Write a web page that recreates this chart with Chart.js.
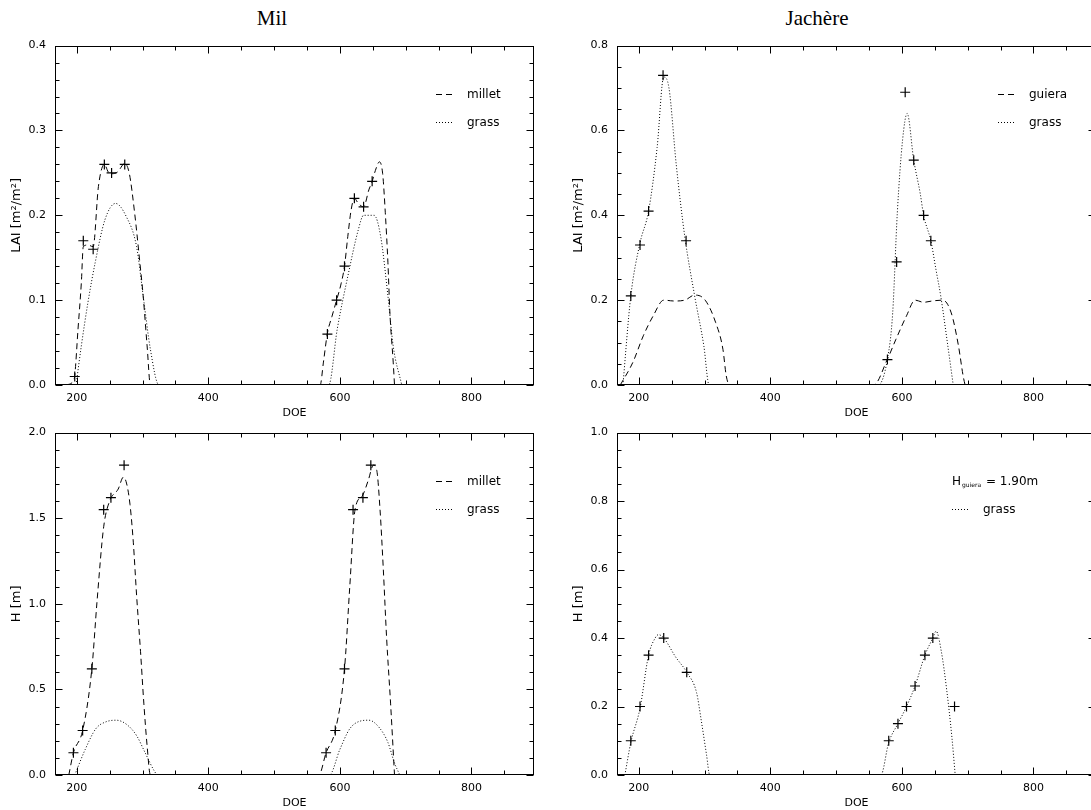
<!DOCTYPE html>
<html>
<head>
<meta charset="utf-8">
<script src="https://cdn.jsdelivr.net/npm/chart.js@4.4.0/dist/chart.umd.min.js"></script>
<style>
body { margin: 0; background: #fff; width: 1091px; height: 810px; overflow: hidden; position: relative; }
.title { position: absolute; top: 6px; font-family: "Liberation Serif", serif; font-size: 21px; color: #000; transform: translateX(-50%); white-space: nowrap; }
canvas { position: absolute; }
</style>
</head>
<body>
<div class="title" style="left:272px">Mil</div>
<div class="title" style="left:817px">Jachère</div>
<canvas id="chart-lai-mil" width="560" height="400" style="left:0px;top:30px"></canvas>
<canvas id="chart-lai-jach" width="560" height="400" style="left:562px;top:30px"></canvas>
<canvas id="chart-h-mil" width="560" height="403" style="left:0px;top:417px"></canvas>
<canvas id="chart-h-jach" width="560" height="403" style="left:562px;top:417px"></canvas>
<script>
// x axis (day of experiment)
doe_min = 167
doe_max = 895
doe_ticks = [200, 400, 600, 800]

// Mil, LAI
mil_lai_ticks = [0, 0.1, 0.2, 0.3, 0.4]
mil_lai_millet_doe = [185, 195, 197, 202, 207, 210, 217, 225, 233, 242, 248, 253, 262, 273, 280, 288, 296, 301, 307, 312,
    570, 575, 581, 588, 595, 602, 607, 612, 617, 622, 628, 636, 644, 649, 654, 660, 665, 669, 673, 676, 681, 683]
mil_lai_millet = [0, 0.005, 0.011, 0.066, 0.12, 0.163, 0.165, 0.163, 0.234, 0.26, 0.251, 0.249, 0.251, 0.261, 0.249, 0.203, 0.144, 0.105, 0.046, 0,
    0, 0.027, 0.061, 0.081, 0.10, 0.12, 0.14, 0.175, 0.206, 0.22, 0.214, 0.21, 0.23, 0.24, 0.253, 0.263, 0.249, 0.203, 0.144, 0.085, 0.027, 0]
mil_lai_grass_doe = [199, 207, 217, 228, 243, 259, 275, 291, 301, 312, 325, 583, 596, 612, 628, 636, 652, 662, 673, 681, 694]
mil_lai_grass = [0, 0.046, 0.097, 0.144, 0.195, 0.214, 0.199, 0.163, 0.105, 0.042, 0, 0, 0.066, 0.128, 0.183, 0.2, 0.2, 0.175, 0.105, 0.046, 0]
mil_lai_obs_doe = [197, 210, 225, 242, 253, 273, 581, 595, 607, 622, 636, 649]
mil_lai_obs = [0.01, 0.17, 0.16, 0.26, 0.25, 0.26, 0.06, 0.10, 0.14, 0.22, 0.21, 0.24]

// Jachère, LAI
jach_lai_ticks = [0, 0.2, 0.4, 0.6, 0.8]
jach_lai_guiera_doe = [172, 191, 207, 222, 238, 254, 270, 285, 301, 317, 328, 333, 338,
    557, 578, 591, 607, 620, 633, 646, 662, 675, 686, 693, 696]
jach_lai_guiera = [0, 0.053, 0.116, 0.163, 0.2, 0.198, 0.2, 0.212, 0.2, 0.147, 0.084, 0.022, 0,
    0, 0.061, 0.108, 0.163, 0.2, 0.195, 0.198, 0.2, 0.17, 0.092, 0.022, 0]
jach_lai_grass_doe = [176, 188, 202, 215, 228, 238, 246, 257, 270, 285, 299, 307,
    564, 578, 586, 593, 601, 608, 618, 628, 633, 644, 652, 659, 670, 678]
jach_lai_grass = [0, 0.21, 0.335, 0.41, 0.56, 0.726, 0.70, 0.52, 0.35, 0.21, 0.092, 0,
    0, 0.061, 0.17, 0.405, 0.577, 0.64, 0.53, 0.45, 0.40, 0.34, 0.27, 0.21, 0.09, 0]
jach_lai_obs_doe = [188, 202, 215, 237, 272, 578, 592, 605, 618, 633, 644]
jach_lai_obs = [0.21, 0.33, 0.41, 0.73, 0.34, 0.06, 0.29, 0.69, 0.53, 0.40, 0.34]

// Mil, H
mil_h_ticks = [0, 0.5, 1.0, 1.5, 2.0]
mil_h_millet_doe = [188, 195, 209, 223, 231, 241, 250, 263, 271, 276, 281, 286, 291, 297, 302, 307, 312,
    568, 579, 593, 607, 615, 623, 634, 643, 651, 656, 661, 666, 671, 677, 683]
mil_h_millet = [0, 0.13, 0.26, 0.62, 1.02, 1.45, 1.6, 1.67, 1.74, 1.70, 1.58, 1.36, 1.05, 0.72, 0.42, 0.17, 0,
    0, 0.13, 0.26, 0.62, 1.1, 1.55, 1.63, 1.72, 1.81, 1.78, 1.55, 1.2, 0.8, 0.42, 0]
mil_h_grass_doe = [197, 213, 229, 244, 260, 276, 291, 304, 318, 323, 584, 600, 615, 631, 644, 660, 673, 683, 691]
mil_h_grass = [0, 0.15, 0.27, 0.31, 0.32, 0.295, 0.23, 0.13, 0.023, 0, 0, 0.15, 0.27, 0.315, 0.32, 0.276, 0.19, 0.07, 0]
mil_h_obs_doe = [195, 209, 223, 241, 252, 272, 579, 593, 607, 620, 635, 647]
mil_h_obs = [0.13, 0.26, 0.62, 1.55, 1.62, 1.81, 0.13, 0.26, 0.62, 1.55, 1.62, 1.81]

// Jachère, H
jach_h_ticks = [0, 0.2, 0.4, 0.6, 0.8, 1.0]
jach_h_grass_doe = [179, 188, 202, 215, 225, 230, 238, 256, 273, 288, 295, 303, 308,
    568, 580, 594, 607, 620, 635, 647, 652, 660, 668, 676, 681]
jach_h_grass = [0, 0.095, 0.195, 0.35, 0.40, 0.41, 0.40, 0.345, 0.30, 0.24, 0.16, 0.06, 0,
    0, 0.095, 0.15, 0.20, 0.26, 0.35, 0.40, 0.42, 0.36, 0.25, 0.11, 0]
jach_h_obs_doe = [188, 202, 215, 238, 273, 580, 594, 607, 620, 635, 647, 680]
jach_h_obs = [0.10, 0.20, 0.35, 0.40, 0.30, 0.10, 0.15, 0.20, 0.26, 0.35, 0.40, 0.20]

dashed = [6, 4]
dotted = [1, 2]
label_font = 'DejaVu Sans'

Chart.defaults.color = '#000'
Chart.defaults.font.family = label_font

function points(xs, ys) {
    return xs.map((x, i) => ({x: x, y: ys[i]}))
}

function curve(label, xs, ys, dash) {
    return {
        label: label,
        data: points(xs, ys),
        showLine: true,
        borderColor: '#000',
        borderWidth: 1,
        borderDash: dash,
        pointRadius: 0,
        cubicInterpolationMode: 'monotone'
    }
}

function markers(xs, ys) {
    return {
        label: 'obs',
        data: points(xs, ys),
        showLine: false,
        pointStyle: 'cross',
        pointRadius: 5,
        borderColor: '#000',
        borderWidth: 1.2
    }
}

// IDL style frame with inward ticks on all four sides, plus the line legend
const idl_frame = {
    id: 'idl_frame',
    afterDatasetsDraw(chart, args, opts) {
        const {ctx, chartArea: a, scales: {x, y}} = chart
        ctx.save()
        ctx.strokeStyle = '#000'
        ctx.lineWidth = 1
        ctx.setLineDash([])
        const l = Math.round(a.left) + 0.5, r = Math.round(a.right) - 0.5
        const t = Math.round(a.top) + 0.5, b = Math.round(a.bottom) - 0.5
        ctx.strokeRect(l, t, r - l, b - t)
        ctx.beginPath()
        for (let v = Math.ceil(x.min / 50) * 50; v <= x.max; v += 50) {
            const px = Math.round(x.getPixelForValue(v)) + 0.5
            const len = v % 200 === 0 ? 7 : 4
            ctx.moveTo(px, b); ctx.lineTo(px, b - len)
            ctx.moveTo(px, t); ctx.lineTo(px, t + len)
        }
        const n = Math.round((y.max - y.min) / opts.minor)
        const per = Math.round(opts.major / opts.minor)
        for (let i = 0; i <= n; i++) {
            const py = Math.round(y.getPixelForValue(y.min + i * opts.minor)) + 0.5
            const len = i % per === 0 ? 7 : 4
            ctx.moveTo(l, py); ctx.lineTo(l + len, py)
            ctx.moveTo(r, py); ctx.lineTo(r - len, py)
        }
        ctx.stroke()

        // legend
        ctx.font = '12px ' + label_font
        ctx.fillStyle = '#000'
        ctx.textBaseline = 'middle'
        opts.legend.forEach((item, i) => {
            const ly = Math.round(a.top + opts.legend_y + i * 28) + 0.5
            const lx = a.left + opts.legend_x
            if (item.dash) {
                ctx.beginPath()
                ctx.setLineDash(item.dash)
                ctx.moveTo(lx, ly); ctx.lineTo(lx + 17, ly)
                ctx.stroke()
                ctx.setLineDash([])
                ctx.fillText(item.text, lx + 31, ly)
            } else {
                ctx.fillText(item.text, lx, ly)
                let w = ctx.measureText(item.text).width
                ctx.font = '6px ' + label_font
                ctx.fillText(item.sub, lx + w + 1, ly + 4)
                w += ctx.measureText(item.sub).width + 2
                ctx.font = '12px ' + label_font
                ctx.fillText(item.rest, lx + w, ly)
            }
        })
        ctx.restore()
    }
}

function make_chart(id, y_title, y_ticks, minor, major, datasets, legend, legend_x) {
    new Chart(document.getElementById(id).getContext('2d'), {
        type: 'scatter',
        data: {datasets: datasets},
        options: {
            responsive: false,
            animation: false,
            layout: {padding: {top: 15, right: 26, left: 0, bottom: 0}},
            plugins: {
                legend: {display: false},
                tooltip: {enabled: false},
                idl_frame: {minor: minor, major: major, legend: legend, legend_x: legend_x, legend_y: 48}
            },
            scales: {
                x: {
                    type: 'linear',
                    min: doe_min,
                    max: doe_max,
                    grid: {display: false, drawTicks: false},
                    border: {display: false},
                    afterBuildTicks: s => { s.ticks = doe_ticks.map(v => ({value: v})) },
                    afterFit: s => { s.height = 45 },
                    ticks: {font: {size: 11}, padding: 7, callback: v => String(v)},
                    title: {display: true, text: 'DOE', font: {size: 11}, padding: {top: 0, bottom: 10}}
                },
                y: {
                    type: 'linear',
                    min: y_ticks[0],
                    max: y_ticks[y_ticks.length - 1],
                    grid: {display: false, drawTicks: false},
                    border: {display: false},
                    afterBuildTicks: s => { s.ticks = y_ticks.map(v => ({value: v})) },
                    afterFit: s => { s.width = 55 },
                    ticks: {font: {size: 11}, padding: 9, callback: v => v.toFixed(1)},
                    title: {display: true, text: y_title, font: {size: 13}, padding: {top: 9, bottom: 0}}
                }
            }
        },
        plugins: [idl_frame]
    })
}

make_chart('chart-lai-mil', 'LAI [m²/m²]', mil_lai_ticks, 0.02, 0.1, [
    curve('millet', mil_lai_millet_doe, mil_lai_millet, dashed),
    curve('grass', mil_lai_grass_doe, mil_lai_grass, dotted),
    markers(mil_lai_obs_doe, mil_lai_obs)
], [{text: 'millet', dash: dashed}, {text: 'grass', dash: dotted}], 381)

make_chart('chart-lai-jach', 'LAI [m²/m²]', jach_lai_ticks, 0.05, 0.2, [
    curve('guiera', jach_lai_guiera_doe, jach_lai_guiera, dashed),
    curve('grass', jach_lai_grass_doe, jach_lai_grass, dotted),
    markers(jach_lai_obs_doe, jach_lai_obs)
], [{text: 'guiera', dash: dashed}, {text: 'grass', dash: dotted}], 381)

make_chart('chart-h-mil', 'H [m]', mil_h_ticks, 0.1, 0.5, [
    curve('millet', mil_h_millet_doe, mil_h_millet, dashed),
    curve('grass', mil_h_grass_doe, mil_h_grass, dotted),
    markers(mil_h_obs_doe, mil_h_obs)
], [{text: 'millet', dash: dashed}, {text: 'grass', dash: dotted}], 381)

make_chart('chart-h-jach', 'H [m]', jach_h_ticks, 0.05, 0.2, [
    curve('grass', jach_h_grass_doe, jach_h_grass, dotted),
    markers(jach_h_obs_doe, jach_h_obs)
], [{text: 'H', sub: 'guiera', rest: ' = 1.90m'}, {text: 'grass', dash: dotted}], 335)
</script>
</body>
</html>
